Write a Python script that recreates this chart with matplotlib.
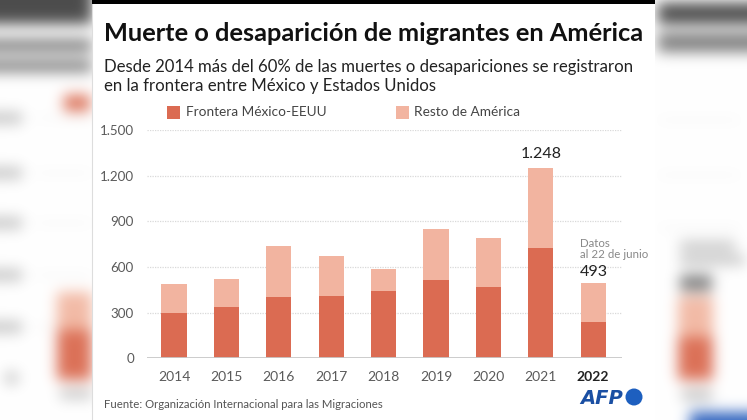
import numpy as np
import matplotlib.pyplot as plt
from matplotlib.patches import Rectangle, Ellipse

plt.rcParams['font.family'] = ['Lato', 'DejaVu Sans']

years = ['2014', '2015', '2016', '2017', '2018', '2019', '2020', '2021', '2022']
frontera = [300, 340, 405, 410, 442, 517, 471, 723, 237]
total = [490, 521, 740, 674, 589, 850, 792, 1248, 493]
resto = [t - f for t, f in zip(total, frontera)]
yticks = [0, 300, 600, 900, 1200, 1500]
ytick_labels = ['0', '300', '600', '900', '1.200', '1.500']

DARK = '#db6b52'
LIGHT = '#f2b4a0'
W, H = 747, 420


def fx(x):
    return x / W


def fy(y):
    return 1 - y / H


fig = plt.figure(figsize=(W / 100, H / 100), dpi=100)

# fondo desenfocado a los lados (copia borrosa del grafico)
bg = np.ones((H, W, 3))
def blob(x0, x1, y0, y1, c):
    bg[y0:y1, x0:x1] = np.array(c)

grey = (0.5, 0.5, 0.5)
lgrey = (0.78, 0.78, 0.78)
dark = (0.86, 0.44, 0.34)
light = (0.95, 0.73, 0.65)
# izquierda
blob(0, 92, 0, 24, (0.3, 0.3, 0.3))
blob(0, 92, 39, 52, grey)
blob(0, 92, 60, 72, grey)
blob(64, 90, 95, 111, dark)
for yy in [118, 173, 223, 275, 327]:
    blob(0, 22, yy - 6, yy + 6, lgrey)
    blob(35, 92, yy - 1, yy + 1, (0.92, 0.92, 0.92))
blob(5, 18, 372, 384, lgrey)
blob(57, 92, 292, 330, light)
blob(57, 92, 330, 380, dark)
blob(60, 92, 389, 399, lgrey)
# derecha
blob(658, 747, 3, 24, (0.3, 0.3, 0.3))
blob(658, 747, 33, 52, grey)
for yy in [120, 175, 228]:
    blob(658, 740, yy - 1, yy + 1, (0.92, 0.92, 0.92))
blob(680, 735, 241, 251, lgrey)
blob(680, 745, 255, 265, lgrey)
blob(680, 712, 275, 291, grey)
blob(678, 713, 296, 337, light)
blob(678, 713, 337, 380, dark)
blob(682, 712, 389, 401, lgrey)
blob(690, 747, 412, 420, (0.2, 0.4, 0.75))


def blur(a, s):
    k = np.exp(-0.5 * (np.arange(-3 * s, 3 * s + 1) / s) ** 2)
    k /= k.sum()
    pad = 3 * s
    a = np.pad(a, ((pad, pad), (pad, pad), (0, 0)), mode='edge')
    a = np.apply_along_axis(lambda r: np.convolve(r, k, mode='same'), 0, a)
    a = np.apply_along_axis(lambda r: np.convolve(r, k, mode='same'), 1, a)
    return a[pad:-pad, pad:-pad]


bg = np.clip(blur(bg, 7), 0, 1)
fig.figimage(bg, xo=0, yo=0, origin='upper', zorder=0)

# panel blanco central
fig.patches.append(Rectangle((fx(92), 0), fx(655) - fx(92), 1, transform=fig.transFigure,
                             facecolor='white', edgecolor='none', zorder=1))
fig.patches.append(Rectangle((fx(92), fy(4)), fx(655) - fx(92), 4 / H, transform=fig.transFigure,
                             facecolor='black', edgecolor='none', zorder=2))
fig.lines.append(plt.Line2D([fx(92), fx(92)], [0, 1], transform=fig.transFigure,
                            color='#dddddd', linewidth=0.8, zorder=2))

# titulos
fig.text(fx(104), fy(41), 'Muerte o desaparición de migrantes en América', fontsize=18.3,
         fontweight='bold', color='#111111', va='baseline', ha='left', zorder=3)
fig.text(fx(104), fy(72), 'Desde 2014 más del 60% de las muertes o desapariciones se registraron',
         fontsize=12.05, color='#222222', va='baseline', ha='left', zorder=3)
fig.text(fx(104), fy(91), 'en la frontera entre México y Estados Unidos',
         fontsize=12.05, color='#222222', va='baseline', ha='left', zorder=3)

# leyenda
fig.patches.append(Rectangle((fx(167), fy(119)), 13 / W, 13 / H, transform=fig.transFigure,
                             facecolor=DARK, edgecolor='none', zorder=3))
fig.text(fx(186), fy(112), 'Frontera México-EEUU', fontsize=9.8, color='#444444',
         va='center', ha='left', zorder=3)
fig.patches.append(Rectangle((fx(396), fy(119)), 13 / W, 13 / H, transform=fig.transFigure,
                             facecolor=LIGHT, edgecolor='none', zorder=3))
fig.text(fx(414), fy(112), 'Resto de América', fontsize=9.8, color='#444444',
         va='center', ha='left', zorder=3)

# grafico de barras
ax = fig.add_axes([fx(147), fy(358.3), fx(622) - fx(147), (358.3 - 130) / H], zorder=4)
ax.set_facecolor('none')
x = np.arange(len(years))
ax.bar(x, frontera, width=0.48, color=DARK, zorder=3)
ax.bar(x, resto, bottom=frontera, width=0.48, color=LIGHT, zorder=3)
ax.set_xlim(-0.515, 8.55)
ax.set_ylim(0, 1500)
for t in yticks[1:]:
    ax.axhline(t, color='#d9d9d9', linewidth=0.9, linestyle=(0, (1, 1)), zorder=1)
ax.axhline(0, color='#c8c8c8', linewidth=1.3, zorder=4)
for s in ax.spines.values():
    s.set_visible(False)
ax.set_yticks(yticks)
ax.set_yticklabels(ytick_labels, fontsize=9.6, color='#5a5a5a')
ax.set_xticks(x)
ax.set_xticklabels(years, fontsize=10, color='#5a5a5a')
ax.get_xticklabels()[-1].set_fontweight('bold')
ax.get_xticklabels()[-1].set_color('#222222')
ax.tick_params(axis='y', length=0, pad=9.4)
ax.tick_params(axis='x', length=0, pad=9)

ax.annotate('1.248', (x[7], total[7]), xytext=(0, 5), textcoords='offset points',
            fontsize=11.5, color='#222222', ha='center', va='bottom')
ax.annotate('Datos\nal 22 de junio', (x[8] - 0.25, total[8]), xytext=(0, 16.5),
            textcoords='offset points', fontsize=8.3, color='#888888',
            ha='left', va='bottom', linespacing=1.05)
ax.annotate('493', (x[8] - 0.25, total[8]), xytext=(0, 3), textcoords='offset points',
            fontsize=11.5, color='#222222', ha='left', va='bottom')

# fuente y logo
fig.text(fx(104), fy(404), 'Fuente: Organización Internacional para las Migraciones', fontsize=8.2,
         color='#555555', va='center', ha='left', zorder=3)
fig.text(fx(580), fy(398), 'AFP', fontsize=14, fontweight='bold', style='italic',
         family='DejaVu Sans', color='#1a4fa3', va='center', ha='left', zorder=3)
fig.patches.append(Ellipse((fx(634), fy(397)), 17 / W, 17 / H, transform=fig.transFigure,
                           facecolor='#1d5fbf', edgecolor='none', zorder=3))

fig.savefig('out.png', dpi=100)
